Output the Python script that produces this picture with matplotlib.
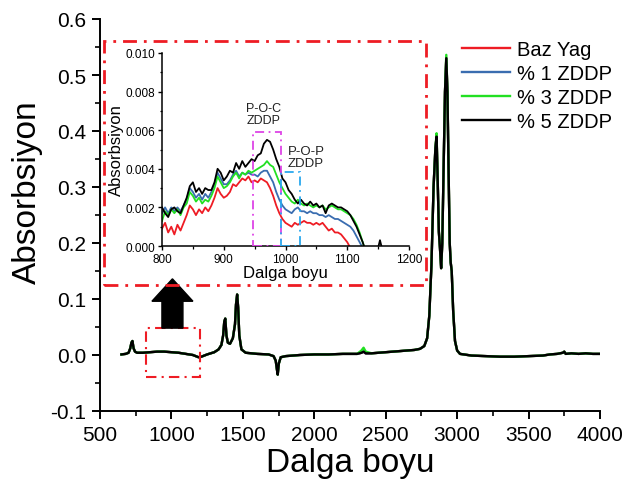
"""FTIR spectra of base oil with ZDDP additive, with zoomed inset (800-1200)."""

import numpy as np
import matplotlib
matplotlib.use('Agg')
import matplotlib.pyplot as plt
from matplotlib.patches import Rectangle, FancyArrow
from matplotlib.ticker import MultipleLocator, FormatStrFormatter

plt.rcParams['font.family'] = ['Liberation Sans', 'DejaVu Sans']
plt.rcParams['axes.unicode_minus'] = False

# --- data -------------------------------------------------------------------
series_names = ['Baz Yag', '% 1 ZDDP', '% 3 ZDDP', '% 5 ZDDP']
series_colors = ['#ee1c24', '#3a6db0', '#22e022', '#000000']

# full spectrum (all four samples almost identical at this scale)
main_x = [650, 680, 700, 712, 720, 727, 735, 745, 760, 800, 850, 900, 950,
          1000, 1050, 1100, 1150, 1190, 1210, 1250, 1300, 1330, 1350, 1362,
          1370, 1377, 1385, 1395, 1410, 1430, 1445, 1452, 1460, 1467, 1475,
          1490, 1520, 1600, 1680, 1715, 1730, 1738, 1744, 1752, 1765, 1800,
          1900, 2000, 2100, 2200, 2300, 2330, 2345, 2360, 2400, 2500, 2600,
          2700, 2740, 2770, 2790, 2805, 2820, 2835, 2848, 2856, 2864, 2872,
          2880, 2888, 2896, 2905, 2915, 2924, 2932, 2940, 2948, 2955, 2962,
          2972, 2985, 3000, 3020, 3100, 3200, 3300, 3400, 3500, 3600, 3650,
          3700, 3740, 3750, 3760, 3800, 3850, 3900, 3950, 4000]
main_y = [0.001, 0.002, 0.004, 0.012, 0.022, 0.025, 0.012, 0.006, 0.004,
          0.004, 0.005, 0.006, 0.006, 0.005, 0.004, 0.002, 0.000, -0.004,
          -0.003, 0.001, 0.005, 0.010, 0.018, 0.035, 0.060, 0.065, 0.035,
          0.022, 0.020, 0.030, 0.055, 0.090, 0.108, 0.085, 0.035, 0.010,
          0.004, 0.002, 0.001, -0.002, -0.010, -0.025, -0.035, -0.015,
          -0.004, -0.002, 0.000, 0.001, 0.001, 0.002, 0.002, 0.004, 0.006,
          0.003, 0.003, 0.005, 0.007, 0.009, 0.011, 0.016, 0.030, 0.070,
          0.160, 0.300, 0.370, 0.390, 0.310, 0.220, 0.190, 0.155, 0.200,
          0.330, 0.470, 0.530, 0.470, 0.330, 0.200, 0.165, 0.150, 0.080,
          0.025, 0.008, 0.002, -0.001, -0.002, -0.003, -0.003, -0.002,
          -0.001, 0.001, 0.002, 0.004, 0.006, 0.002, 0.003, 0.002, 0.003,
          0.002, 0.002]
# where the 3 % ZDDP sample differs visibly from the others
green_main_override = {2330: 0.008, 2345: 0.013, 2360: 0.006,
                       2856: 0.396, 2924: 0.536}

# zoomed region 800-1200
inset_x = list(range(800, 1131, 5)) + [1140, 1150, 1153, 1156, 1170, 1200]
inset_red = [0.0009, 0.0012, 0.0007, 0.0010, 0.0006, 0.0011, 0.0008, 0.0012,
             0.0016, 0.0021, 0.0019, 0.0016, 0.0019, 0.0017, 0.0020, 0.0018,
             0.0021, 0.0025, 0.0030, 0.0027, 0.0025, 0.0026, 0.0028, 0.0032,
             0.0031, 0.0033, 0.0035, 0.0034, 0.0036, 0.0033, 0.0034, 0.0033,
             0.0035, 0.0034, 0.0033, 0.0030, 0.0026, 0.0021, 0.0017, 0.0014,
             0.0012, 0.0011, 0.0010, 0.0012, 0.0011, 0.0012, 0.0013, 0.0012,
             0.0012, 0.0011, 0.0012, 0.0011, 0.0012, 0.0010, 0.0008, 0.0009,
             0.0007, 0.0007, 0.0006, 0.0004, 0.0002, -0.0001, -0.0003,
             -0.0004, -0.0005, -0.0005, -0.0006,
             -0.0007, -0.0008, -0.0008, -0.0008, -0.0008, -0.0009]
inset_blue = [0.0017, 0.0020, 0.0017, 0.0020, 0.0018, 0.0020, 0.0018, 0.0021,
              0.0024, 0.0030, 0.0028, 0.0025, 0.0027, 0.0024, 0.0027, 0.0025,
              0.0028, 0.0032, 0.0038, 0.0035, 0.0032, 0.0032, 0.0034, 0.0037,
              0.0039, 0.0036, 0.0038, 0.0037, 0.0038, 0.0037, 0.0037, 0.0036,
              0.0038, 0.0039, 0.0039, 0.0036, 0.0033, 0.0028, 0.0024, 0.0021,
              0.0019, 0.0018, 0.0017, 0.0019, 0.0020, 0.0018, 0.0018, 0.0017,
              0.0018, 0.0017, 0.0017, 0.0016, 0.0016, 0.0015, 0.0016, 0.0015,
              0.0014, 0.0014, 0.0013, 0.0012, 0.0011, 0.0010, 0.0008, 0.0005,
              0.0002, -0.0001, -0.0004,
              -0.0006, -0.0007, -0.0007, -0.0007, -0.0008, -0.0008]
inset_green = [0.0013, 0.0018, 0.0016, 0.0019, 0.0017, 0.0019, 0.0016, 0.0020,
               0.0022, 0.0028, 0.0026, 0.0023, 0.0025, 0.0022, 0.0024, 0.0023,
               0.0026, 0.0030, 0.0036, 0.0033, 0.0030, 0.0031, 0.0033, 0.0036,
               0.0038, 0.0035, 0.0038, 0.0037, 0.0039, 0.0038, 0.0039, 0.0040,
               0.0041, 0.0042, 0.0044, 0.0042, 0.0041, 0.0037, 0.0033, 0.0030,
               0.0027, 0.0025, 0.0023, 0.0022, 0.0024, 0.0022, 0.0021, 0.0022,
               0.0021, 0.0020, 0.0021, 0.0020, 0.0021, 0.0019, 0.0020, 0.0021,
               0.0020, 0.0019, 0.0019, 0.0018, 0.0017, 0.0016, 0.0014, 0.0011,
               0.0007, 0.0002, -0.0003,
               -0.0006, -0.0007, -0.0007, -0.0007, -0.0008, -0.0008]
inset_black = [0.0020, 0.0017, 0.0015, 0.0019, 0.0020, 0.0018, 0.0017, 0.0021,
               0.0025, 0.0031, 0.0033, 0.0028, 0.0030, 0.0027, 0.0030, 0.0029,
               0.0029, 0.0033, 0.0040, 0.0038, 0.0034, 0.0036, 0.0039, 0.0038,
               0.0043, 0.0040, 0.0044, 0.0041, 0.0043, 0.0045, 0.0044, 0.0047,
               0.0048, 0.0053, 0.0055, 0.0054, 0.0050, 0.0045, 0.0041, 0.0035,
               0.0033, 0.0029, 0.0027, 0.0024, 0.0022, 0.0024, 0.0022, 0.0021,
               0.0023, 0.0021, 0.0022, 0.0020, 0.0021, 0.0017, 0.0021, 0.0022,
               0.0021, 0.0020, 0.0020, 0.0019, 0.0018, 0.0016, 0.0013, 0.0010,
               0.0006, 0.0002, -0.0003,
               -0.0006, -0.0001, 0.0003, -0.0001, -0.0007, -0.0008]
inset_series = [inset_red, inset_blue, inset_green, inset_black]

red = '#ee1c24'
dashdot = (0, (5, 2.5, 1, 2.5))

# --- figure -----------------------------------------------------------------
W, H = 627, 489
fig = plt.figure(figsize=(W / 100, H / 100), dpi=100)

ax = fig.add_axes([100 / W, 1 - 412 / H, 500 / W, 392 / H])
handles = []
for name, color in zip(series_names, series_colors):
    ys = main_y
    if name == '% 3 ZDDP':
        ys = [green_main_override.get(x, y) for x, y in zip(main_x, main_y)]
    line, = ax.plot(main_x, ys, color=color, lw=1.7, label=name)
    handles.append(line)

ax.set_xlim(500, 4000)
ax.set_ylim(-0.1, 0.6)
for side in ('top', 'right'):
    ax.spines[side].set_visible(False)
for side in ('left', 'bottom'):
    ax.spines[side].set_linewidth(1.4)
ax.xaxis.set_major_locator(MultipleLocator(500))
ax.xaxis.set_minor_locator(MultipleLocator(250))
ax.yaxis.set_major_locator(MultipleLocator(0.1))
ax.yaxis.set_minor_locator(MultipleLocator(0.05))
ax.yaxis.set_major_formatter(FormatStrFormatter('%.1f'))
ax.tick_params(which='major', length=6, width=1.4, labelsize=15, pad=4)
ax.tick_params(which='minor', length=3.5, width=1.2)
ax.set_xlabel('Dalga boyu', fontsize=24, labelpad=2)
ax.set_ylabel('Absorbsiyon', fontsize=24)
ax.yaxis.set_label_coords(-0.115, 0.56)

# marked zoom region and arrow
ax.add_patch(Rectangle((822, -0.039), 378, 0.087, fill=False, ec=red,
                       lw=1.5, ls=dashdot, zorder=5))
ax.add_patch(FancyArrow(1007, 0.048, 0, 0.088, width=147, head_width=287,
                        head_length=0.04, length_includes_head=True,
                        color='black', zorder=6))

ax.legend(handles=handles, loc='upper left',
          bbox_to_anchor=(462 / W, 1 - 41 / H), bbox_transform=fig.transFigure,
          frameon=False, fontsize=14.5, handlelength=2.4, handletextpad=0.35,
          labelspacing=0.25, borderpad=0, borderaxespad=0)

# --- inset ------------------------------------------------------------------
axin = fig.add_axes([162 / W, 1 - 247 / H, 247 / W, 193 / H])
axin.patch.set_alpha(0)
for ys, color in zip(inset_series, series_colors):
    axin.plot(inset_x, ys, color=color, lw=1.3)
axin.set_xlim(800, 1200)
axin.set_ylim(0, 0.010)
for side in ('top', 'right'):
    axin.spines[side].set_visible(False)
for side in ('left', 'bottom'):
    axin.spines[side].set_linewidth(1.1)
axin.xaxis.set_major_locator(MultipleLocator(100))
axin.xaxis.set_minor_locator(MultipleLocator(50))
axin.yaxis.set_major_locator(MultipleLocator(0.002))
axin.yaxis.set_minor_locator(MultipleLocator(0.001))
axin.yaxis.set_major_formatter(FormatStrFormatter('%.3f'))
axin.tick_params(which='major', length=3, width=1.0, labelsize=8.5, pad=2)
axin.tick_params(which='minor', length=1.8, width=0.9)
axin.set_xlabel('Dalga boyu', fontsize=12, labelpad=0)
axin.set_ylabel('Absorbsiyon', fontsize=12, labelpad=1)

axin.add_patch(Rectangle((948, 0), 45, 0.00593, fill=False, ec='#dd44e6',
                         lw=1.3, ls=dashdot, zorder=5))
axin.add_patch(Rectangle((993, 0), 30, 0.00386, fill=False, ec='#2aa8ee',
                         lw=1.3, ls=dashdot, zorder=5))
axin.text(965, 0.00684, 'P-O-C\nZDDP', fontsize=9, ha='center', va='center',
          linespacing=1.0, color='#222222')
axin.text(1033, 0.00461, 'P-O-P\nZDDP', fontsize=9.5, ha='center',
          va='center', linespacing=1.05, color='#222222')

# dash-dot frame around the inset
fig.add_artist(Rectangle((104 / W, 1 - 286 / H), 322 / W, 244 / H,
                         transform=fig.transFigure, fill=False, ec=red,
                         lw=2.0, ls=dashdot))

fig.savefig('out.png', dpi=100, facecolor='white')
